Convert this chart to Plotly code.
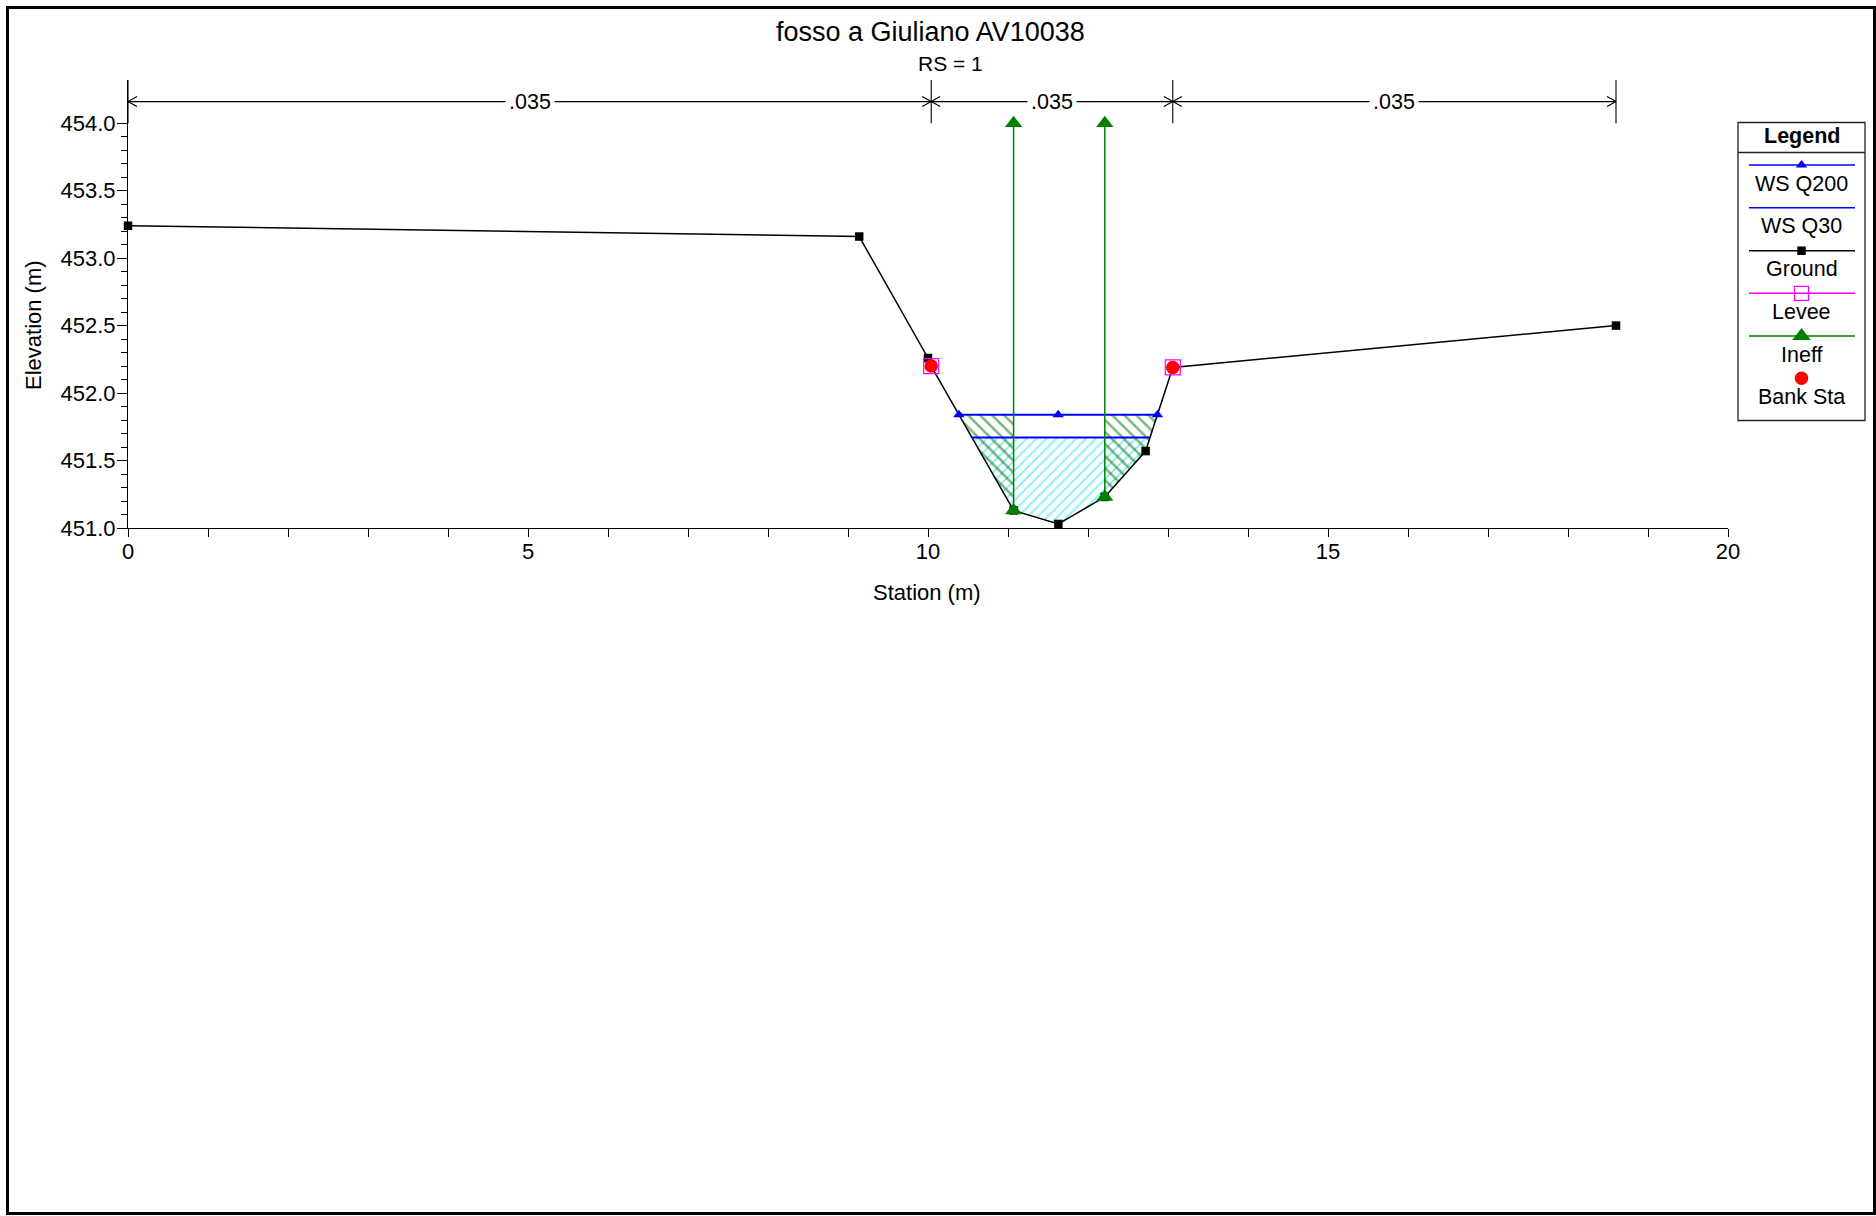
import numpy as np
import plotly.graph_objects as go

# ---------------- cross-section data ----------------
station = [0.0, 9.14, 10.0, 10.04, 11.07, 11.63, 12.21, 12.72, 13.06, 18.6]
elevation = [453.24, 453.16, 452.26, 452.20, 451.13, 451.03, 451.23, 451.57, 452.19, 452.50]

bank_sta = [10.04, 13.06]
levee_sta = [10.04, 13.06]

ineff_sta = [11.07, 12.21]
ineff_elev = [454.0, 454.0]

ws_labels = ["WS Q200", "WS Q30"]
ws_elev = [451.84, 451.67]

n_break = [0.0, 10.04, 13.06, 18.6]
n_value = [0.035, 0.035, 0.035]

x_ticks = [0, 5, 10, 15, 20]
x_minor = list(range(0, 21))
y_ticks = [451.0, 451.5, 452.0, 452.5, 453.0, 453.5, 454.0]
y_minor = [round(v, 1) for v in np.arange(451.0, 454.05, 0.1)]

# ---------------- page geometry ----------------
W, H = 1876, 1216
PX0, PX1, PY0, PY1 = 128, 1728, 80, 528      # plot box (left, right, top, bottom) in px
X_RANGE = [0, 20]
Y_RANGE = [451.0, 454.32]
N_Y = 454.16                                  # height of the Manning's n band
N_TICK = [454.0, 454.32]

FONT = "Liberation Sans, Arial, Helvetica, sans-serif"
BLUE, GREEN, MAGENTA, RED, CYAN = "#0000ff", "#008000", "#ff00ff", "#ff0000", "#00e0f2"
HATCH_GREEN = "#006e00"

kx = (PX1 - PX0) / (X_RANGE[1] - X_RANGE[0])
ky = (PY1 - PY0) / (Y_RANGE[1] - Y_RANGE[0])

sta = np.array(station)
elv = np.array(elevation)


def ground(x):
    return float(np.interp(x, sta, elv))


def water_edges(z):
    """Left/right stations where a water surface at z meets the ground."""
    i0 = int(np.argmin(elv))
    i = i0
    while i > 0 and elv[i - 1] < z:
        i -= 1
    xl = float(np.interp(z, [elv[i], elv[i - 1]], [sta[i], sta[i - 1]]))
    j = i0
    while j < len(sta) - 1 and elv[j + 1] < z:
        j += 1
    xr = float(np.interp(z, [elv[j], elv[j + 1]], [sta[j], sta[j + 1]]))
    return xl, xr


def region(z, a, b):
    """Polygon between a water level z and the ground, from station a to b."""
    inner = [(s, e) for s, e in zip(sta, elv) if a < s < b]
    xs = [a, b, b] + [s for s, _ in reversed(inner)] + [a, a]
    ys = [z, z, ground(b)] + [e for _, e in reversed(inner)] + [ground(a), z]
    return xs, ys


fig = go.Figure()

# ---------------- hatched water areas ----------------
xl_hi, xr_hi = water_edges(ws_elev[0])
xl_lo, xr_lo = water_edges(ws_elev[1])

wx, wy = region(ws_elev[1], xl_lo, xr_lo)
fig.add_trace(go.Scatter(
    x=wx, y=wy, mode="lines", fill="toself", line=dict(width=0, color="rgba(0,0,0,0)"),
    fillcolor="rgba(0,0,0,0)",
    fillpattern=dict(shape="/", fgcolor=CYAN, bgcolor="rgba(0,0,0,0)",
                     size=7, solidity=0.25, fillmode="overlay"),
    hoverinfo="skip"))

for a, b in [(xl_hi, ineff_sta[0]), (ineff_sta[1], xr_hi)]:
    gx, gy = region(ws_elev[0], a, b)
    fig.add_trace(go.Scatter(
        x=gx, y=gy, mode="lines", fill="toself", line=dict(width=0, color="rgba(0,0,0,0)"),
        fillcolor="rgba(0,0,0,0)",
        fillpattern=dict(shape="\\", fgcolor=HATCH_GREEN, bgcolor="rgba(0,0,0,0)",
                         size=8.5, solidity=0.3, fillmode="overlay"),
        hoverinfo="skip"))

# ---------------- ground ----------------
fig.add_trace(go.Scatter(
    x=station, y=elevation, mode="lines+markers", cliponaxis=False,
    line=dict(color="black", width=1.5),
    marker=dict(symbol="square", size=8.5, color="black")))

# ---------------- water surfaces ----------------
fig.add_trace(go.Scatter(
    x=[xl_hi, (xl_hi + xr_hi) / 2, xr_hi], y=[ws_elev[0]] * 3, mode="lines+markers",
    line=dict(color=BLUE, width=2),
    marker=dict(symbol="triangle-up", size=10, color=BLUE)))
fig.add_trace(go.Scatter(
    x=[xl_lo, xr_lo], y=[ws_elev[1]] * 2, mode="lines",
    line=dict(color=BLUE, width=2)))

# ---------------- ineffective flow limits ----------------
for s, z in zip(ineff_sta, ineff_elev):
    fig.add_trace(go.Scatter(
        x=[s, s], y=[ground(s), z], mode="lines+markers", cliponaxis=False,
        line=dict(color=GREEN, width=1.5),
        marker=dict(symbol="triangle-up", size=15, color=GREEN)))

# ---------------- levees and bank stations ----------------
fig.add_trace(go.Scatter(
    x=levee_sta, y=[ground(s) for s in levee_sta], mode="markers",
    marker=dict(symbol="square-open", size=15, color=MAGENTA, line=dict(width=1.2))))
fig.add_trace(go.Scatter(
    x=bank_sta, y=[ground(s) for s in bank_sta], mode="markers",
    marker=dict(symbol="circle", size=13.5, color=RED)))

# ---------------- Manning's n band ----------------
dx, dy = 9 / kx, 5 / ky
nx, ny = [n_break[0], n_break[-1], None], [N_Y, N_Y, None]
for a, b in zip(n_break[:-1], n_break[1:]):
    nx += [a + dx, a, a + dx, None, b - dx, b, b - dx, None]
    ny += [N_Y + dy, N_Y, N_Y - dy, None, N_Y + dy, N_Y, N_Y - dy, None]
for s in n_break:
    nx += [s, s, None]
    ny += [N_TICK[0], N_TICK[1], None]
fig.add_trace(go.Scatter(x=nx, y=ny, mode="lines", cliponaxis=False,
                         line=dict(color="black", width=1.1), hoverinfo="skip"))

annotations = []
for a, b, v in zip(n_break[:-1], n_break[1:], n_value):
    annotations.append(dict(
        x=(a + b) / 2, y=N_Y, xref="x", yref="y", text=f"{v:.3f}".lstrip("0"),
        showarrow=False, bgcolor="white", borderpad=3,
        font=dict(family=FONT, size=21.5, color="black")))

# ---------------- page overlay (pixel frame) ----------------
def ptext(x, y, text, size=21.5, bold=False, angle=0):
    annotations.append(dict(
        x=x, y=y, xref="x2", yref="y2", text=f"<b>{text}</b>" if bold else text,
        showarrow=False, textangle=angle, xanchor="center", yanchor="middle",
        font=dict(family=FONT, size=size, color="black")))


ptext(930.6, 32, "fosso a Giuliano AV10038", size=27)
ptext(950, 63, "RS = 1", size=21)
ptext(927, 592, "Station (m)", size=22)
ptext(33, 325, "Elevation (m)", size=22, angle=-90)

# legend
LG_X0, LG_X1, LG_Y0, LG_Y1, LG_SEP = 1738, 1865, 122.5, 420.5, 152.5
LG_LINE = [1749, 1855]
LG_C = (LG_X0 + LG_X1) / 2
ptext(LG_C, 136, "Legend", size=21.5, bold=True)
legend_rows = [
    ("WS Q200", BLUE, dict(symbol="triangle-up", size=10, color=BLUE), 165),
    ("WS Q30", BLUE, None, 207.7),
    ("Ground", "black", dict(symbol="square", size=8.5, color="black"), 250.7),
    ("Levee", MAGENTA, dict(symbol="square-open", size=14, color=MAGENTA, line=dict(width=1.2)), 293.3),
    ("Ineff", GREEN, dict(symbol="triangle-up", size=16, color=GREEN), 336),
    ("Bank Sta", None, dict(symbol="circle", size=13.5, color=RED), 378.3),
]
for label, lc, mk, yy in legend_rows:
    if lc is not None:
        fig.add_trace(go.Scatter(x=LG_LINE, y=[yy, yy], xaxis="x2", yaxis="y2", mode="lines",
                                 line=dict(color=lc, width=1.6), hoverinfo="skip"))
    if mk is not None:
        fig.add_trace(go.Scatter(x=[LG_C], y=[yy], xaxis="x2", yaxis="y2", mode="markers",
                                 marker=mk, hoverinfo="skip"))
    ptext(LG_C, yy + 18.5, label, size=21.5)

shapes = [
    dict(type="rect", xref="x2", yref="y2", x0=LG_X0, x1=LG_X1, y0=LG_Y0, y1=LG_Y1,
         line=dict(color="#222222", width=1.3), fillcolor="rgba(0,0,0,0)", layer="below"),
    dict(type="line", xref="x2", yref="y2", x0=LG_X0, x1=LG_X1, y0=LG_SEP, y1=LG_SEP,
         line=dict(color="#222222", width=1.3)),
    dict(type="rect", xref="x2", yref="y2", x0=7.5, x1=1874.5, y0=7.5, y1=1213.5,
         line=dict(color="black", width=3), fillcolor="rgba(0,0,0,0)"),
]

axis_font = dict(family=FONT, size=22, color="black")
fig.update_layout(
    width=W, height=H, template="none", showlegend=False,
    margin=dict(l=0, r=0, t=0, b=0, pad=0),
    paper_bgcolor="white", plot_bgcolor="rgba(0,0,0,0)",
    font=dict(family=FONT, color="black"),
    xaxis=dict(domain=[PX0 / W, PX1 / W], range=X_RANGE, anchor="y",
               showline=True, linecolor="black", linewidth=1, showgrid=False, zeroline=False,
               ticks="outside", ticklen=8, tickwidth=1, tickcolor="black",
               tickmode="array", tickvals=x_ticks, ticktext=[str(v) for v in x_ticks],
               tickfont=axis_font, ticklabelstandoff=-4,
               minor=dict(tickmode="array", tickvals=x_minor, ticks="outside", ticklen=8,
                          tickwidth=1, tickcolor="black", showgrid=False)),
    yaxis=dict(domain=[1 - PY1 / H, 1 - PY0 / H], range=Y_RANGE, anchor="x",
               showline=True, linecolor="black", linewidth=1, showgrid=False, zeroline=False,
               ticks="outside", ticklen=10, tickwidth=1, tickcolor="black",
               tickmode="array", tickvals=y_ticks, ticktext=[f"{v:.1f}" for v in y_ticks],
               tickfont=axis_font, ticklabelstandoff=-3,
               minor=dict(tickmode="array", tickvals=y_minor, ticks="outside", ticklen=6,
                          tickwidth=1, tickcolor="black", showgrid=False)),
    xaxis2=dict(domain=[0, 1], range=[0, W], anchor="y2", visible=False, fixedrange=True),
    yaxis2=dict(domain=[0, 1], range=[H, 0], anchor="x2", visible=False, fixedrange=True),
    annotations=annotations, shapes=shapes,
)

fig.write_html("out.html")
